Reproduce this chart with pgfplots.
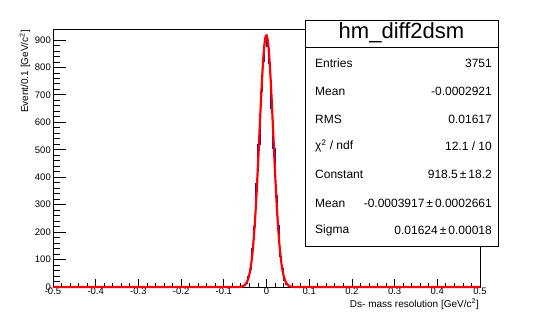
\documentclass[border=0pt]{standalone}
\usepackage{pgfplots}
\pgfplotsset{compat=1.18}
\usepackage{fontspec}
\setmainfont{Liberation Sans}
\definecolor{histblue}{RGB}{10,10,170}
\begin{document}
\begin{tikzpicture}[x=1pt,y=1pt]
\path (0,0) rectangle (534,319);
% axis carrying the y ticks
\begin{axis}[at={(53pt,32pt)}, anchor=south west, scale only axis,
  width=427pt, height=258pt,
  xmin=-0.5, xmax=0.5, ymin=0, ymax=940,
  axis line style={line width=0.8pt},
  xtick=\empty,
  ytick={0,100,200,300,400,500,600,700,800,900},
  yticklabels={0,100,200,300,400,500,600,700,800,900},
  minor y tick num=4,
  ytick pos=left, tick align=inside,
  major tick length=13pt, minor tick length=6.5pt,
  tick style={black, line width=0.8pt},
  yticklabel style={font=\fontsize{9.5}{10}\selectfont, inner sep=1pt, xshift=-1pt},
]
\end{axis}
% axis carrying the x ticks and the data
\begin{axis}[at={(53pt,32pt)}, anchor=south west, scale only axis,
  width=427pt, height=258pt,
  xmin=-0.5, xmax=0.5, ymin=0, ymax=940,
  axis line style={line width=0.8pt},
  ytick=\empty,
  xtick={-0.5,-0.4,-0.3,-0.2,-0.1,0,0.1,0.2,0.3,0.4,0.5},
  xticklabels={-0.5,-0.4,-0.3,-0.2,-0.1,0,0.1,0.2,0.3,0.4,0.5},
  minor x tick num=4,
  xtick pos=bottom, tick align=inside,
  major tick length=8pt, minor tick length=4pt,
  tick style={black, line width=0.8pt},
  xticklabel style={font=\fontsize{9.5}{10}\selectfont, inner sep=1pt},
  clip=false,
]
\addplot[const plot, color=histblue, line width=1pt] coordinates {
(-0.5,0) (-0.065,1) (-0.06,2) (-0.055,4) (-0.05,12) (-0.045,38) (-0.04,62)
(-0.035,140) (-0.03,222) (-0.025,378) (-0.02,520) (-0.015,712) (-0.01,820)
(-0.005,903) (0,875) (0.005,815) (0.01,652) (0.015,505) (0.02,335)
(0.025,225) (0.03,110) (0.035,68) (0.04,24) (0.045,10) (0.05,4) (0.055,1)
(0.06,0) (0.5,0)};
\addplot[color=red, line width=2.2pt, line join=round] coordinates {
(-0.5,0) (-0.08,0) (-0.07,0.1) (-0.065,0.34) (-0.0625,0.6) (-0.06,1.09) (-0.0575,1.9)
(-0.055,3.2) (-0.0525,5.3) (-0.05,8.6) (-0.0475,13.7) (-0.045,21.1)
(-0.0425,31.8) (-0.04,46.9) (-0.0375,67.5) (-0.035,94.8) (-0.0325,130)
(-0.03,174.3) (-0.0275,228) (-0.025,291) (-0.0225,363.6) (-0.02,443)
(-0.0175,527) (-0.015,613) (-0.0125,695) (-0.01,771) (-0.0075,834.5)
(-0.005,882) (-0.0025,910.8) (0,918.2) (0.0025,904) (0.005,869)
(0.0075,816) (0.01,748.5) (0.0125,670) (0.015,586) (0.0175,500.7)
(0.02,417.6) (0.0225,340) (0.025,271) (0.0275,210) (0.03,159.5)
(0.0325,118) (0.035,85.5) (0.0375,60.4) (0.04,41.7) (0.0425,28.1)
(0.045,18.5) (0.0475,11.9) (0.05,7.5) (0.0525,4.6) (0.055,2.7)
(0.0575,1.6) (0.06,0.9) (0.0625,0.5) (0.065,0.28) (0.07,0.1) (0.08,0) (0.5,0)};
\end{axis}
% axis titles
\node[rotate=90, anchor=east, inner sep=0pt, font=\fontsize{10}{11}\selectfont] at (25,289) {Event/0.1 [GeV/c\textsuperscript{2}]};
\node[anchor=east, inner sep=0pt, font=\fontsize{10}{11}\selectfont] at (479,15) {Ds- mass resolution [GeV/c\textsuperscript{2}]};
% statistics box
\draw[fill=white, line width=0.8pt] (305,73) rectangle (498,299);
\draw[line width=0.8pt] (305,272) -- (498,272);
\node[font=\fontsize{22}{24}\selectfont, inner sep=0pt] at (401.5,286) {hm\_diff2dsm};
\begin{scope}[every node/.style={font=\fontsize{12}{14}\selectfont, inner sep=0pt}]
\node[anchor=west] at (315,256) {Entries};
\node[anchor=east] at (492,256) {3751};
\node[anchor=west] at (315,228) {Mean};
\node[anchor=east] at (492,228) {-0.0002921};
\node[anchor=west] at (315,200) {RMS};
\node[anchor=east] at (492,200) {0.01617};
\node[anchor=west] at (315,173) {χ\textsuperscript{2} / ndf};
\node[anchor=east] at (492,173) {12.1 / 10};
\node[anchor=west] at (315,145) {Constant};
\node[anchor=east] at (492,145) {918.5\,±\,18.2};
\node[anchor=west] at (315,116) {Mean};
\node[anchor=east] at (492,116) {-0.0003917\,±\,0.0002661};
\node[anchor=west] at (315,89) {Sigma};
\node[anchor=east] at (492,89) {0.01624\,±\,0.00018};
\end{scope}
\end{tikzpicture}
\end{document}
